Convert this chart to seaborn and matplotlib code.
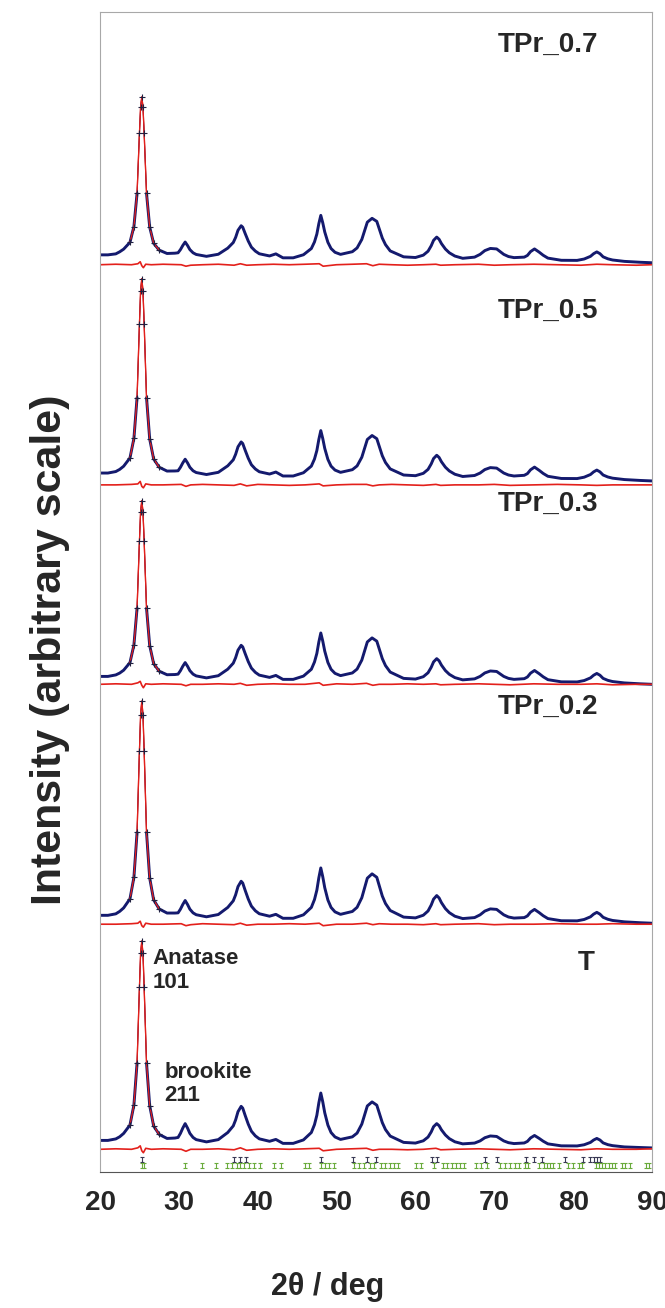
import numpy as np
import pandas as pd
import matplotlib
matplotlib.use('Agg')
import matplotlib.pyplot as plt
import seaborn as sns
from matplotlib.ticker import MultipleLocator

# 2theta grid (deg) for the digitised patterns
THETA = [20, 21, 22, 22.5, 23, 23.8, 24.3, 24.7, 25.0, 25.15, 25.3, 25.45, 25.6, 25.9,
         26.3, 26.8, 27.5, 28.5, 29.5, 29.9, 30.2, 30.5, 30.8, 31.1, 31.4, 31.8, 32.2,
         33.5, 35, 36.2, 36.9, 37.2, 37.5, 37.9, 38.1, 38.4, 38.8, 39.2, 39.7, 40.2,
         41.5, 42.3, 43.2, 44.5, 45.8, 46.8, 47.2, 47.5, 47.75, 48.0, 48.25, 48.5,
         48.9, 49.3, 49.8, 50.5, 52, 52.6, 53.2, 53.9, 54.5, 55.1, 55.8, 56.2, 56.8,
         58.5, 60, 61.0, 61.6, 62.0, 62.3, 62.7, 63.0, 63.3, 63.8, 64.3, 65.0, 66,
         67.5, 68.2, 68.8, 69.5, 70.3, 71.2, 71.8, 72.5, 73.8, 74.2, 74.6, 75.1, 75.7,
         76.2, 76.8, 78.5, 80.5, 81.4, 82.2, 82.6, 83.0, 83.4, 83.8, 84.4, 85.0, 86.5,
         88.5, 90]

# observed intensity above each pattern's own baseline (arbitrary units)
OBS_07 = [0, 0, 1, 3.1, 5.8, 12.7, 28.7, 62.3, 123, 150, 160, 150, 123, 62.3,
          28.2, 11.7, 4.8, 1.4, 1.7, 2.1, 5.3, 9.5, 13, 9.5, 5.3, 2.1, 0.4,
          -1.5, 0.6, 6.8, 12.5, 17.7, 24.9, 29.5, 28, 21.8, 14, 7.8, 3.8, 1.1,
          -1.1, 1, -3, -3, 0.1, 6.4, 13.1, 21.1, 31.6, 40, 32.4, 23.2,
          12.7, 6.4, 2.6, 0.5, 3.2, 7, 15.6, 33.1, 37, 33.9, 17, 10.4, 4,
          -2, -2.7, -0.3, 3.7, 9.2, 14.7, 18, 15.8, 11.4, 5.9, 2.1, -1.2, -3.5,
          -2.3, 0.5, 4.3, 6.5, 6, 0.5, -1.7, -2.8, -2.3, -0.6, 3.3, 6, 2.7,
          -0.4, -3.3, -5.5, -5.6, -4.2, -1.5, 1.2, 3, 1.2, -2, -4, -5.2, -6.6,
          -7.5, -8]
OBS_05 = [0, 0, 1.5, 3.7, 6.9, 15.3, 35, 76.4, 151, 184.7, 197, 184.7, 151, 76.4,
          34.5, 14.3, 5.9, 2, 2.1, 2.3, 5.8, 10.3, 14, 10.3, 5.8, 2.3, 0.5,
          -1.5, 0.7, 7.3, 13.4, 19, 26.6, 31.5, 29.9, 23.3, 15, 8.4, 4.1, 1.3,
          -1, 1, -3, -3, 0.3, 7, 14.2, 22.8, 34, 43, 34.9, 25,
          13.8, 7, 3, 0.7, 3.4, 7.2, 16, 34, 38, 34.8, 17.5, 10.7, 4.2,
          -2, -2.7, -0.3, 3.7, 9.2, 14.7, 18, 15.8, 11.4, 5.9, 2.1, -1.2, -3.5,
          -2.5, 0, 3.5, 5.5, 5, 0, -2, -3, -2.3, -0.6, 3.3, 6, 2.7,
          -0.4, -3.3, -5.5, -5.6, -4.2, -1.5, 1.2, 3, 1.2, -2, -4, -5.2, -6.6,
          -7.5, -8]
OBS_03 = [0, 0, 1.5, 3.4, 6.3, 14, 31.8, 69.1, 137, 167, 178, 167, 137, 69.1,
          31.3, 13, 5.3, 1.7, 1.9, 2.3, 5.8, 10.3, 14, 10.3, 5.8, 2.3, 0.5,
          -1.5, 0.7, 7.3, 13.4, 19, 26.6, 31.5, 29.9, 23.3, 15, 8.4, 4.1, 1.3,
          -1, 1, -3, -3, 0.3, 7.2, 14.6, 23.3, 34.8, 44, 35.7, 25.6,
          14.1, 7.2, 3.1, 0.8, 3.5, 7.4, 16.5, 34.9, 39, 35.7, 18, 11, 4.4,
          -2, -2.7, -0.3, 3.7, 9.2, 14.7, 18, 15.8, 11.4, 5.9, 2.1, -1.2, -3.5,
          -2.5, 0, 3.5, 5.5, 5, 0, -2, -3, -2.3, -0.6, 3.3, 6, 2.7,
          -0.4, -3.3, -5.5, -5.6, -4.2, -1.5, 1.2, 3, 1.2, -2, -4, -5.2, -6.6,
          -7.5, -8]
OBS_02 = [0, 0, 1.5, 4, 7.5, 16.7, 38.4, 84, 166.4, 203.3, 217, 203.3, 166.4, 84,
          37.9, 15.7, 6.5, 2.3, 2.3, 2.5, 6.2, 11, 15, 11, 6.2, 2.5, 0.6,
          -1.5, 0.8, 8, 14.7, 20.8, 29.1, 34.5, 32.7, 25.5, 16.5, 9.3, 4.6, 1.6,
          -0.9, 1, -3, -3, 0.5, 8, 16, 25.5, 38, 48, 39, 28,
          15.5, 8, 3.5, 1, 3.9, 8.1, 17.8, 37.6, 42, 38.5, 19.5, 12, 4.9,
          -1.8, -2.6, 0.1, 4.4, 10.4, 16.4, 20, 17.6, 12.8, 6.8, 2.7, -0.9, -3.3,
          -2.3, 0.5, 4.3, 6.5, 6, 0.5, -1.7, -2.8, -2.3, -0.6, 3.3, 6, 2.7,
          -0.4, -3.3, -5.5, -5.6, -4.2, -1.5, 1.2, 3, 1.2, -2, -4, -5.2, -6.6,
          -7.5, -8]
OBS_T = [0, 0, 1.5, 3.7, 7.1, 15.6, 35.8, 78.3, 155, 189.4, 202, 189.4, 155, 78.3,
         35.3, 14.6, 6.1, 2, 2.4, 3, 7.1, 12.5, 17, 12.5, 7.1, 3, 0.8,
         -1.5, 0.8, 8, 14.7, 20.8, 29.1, 34.5, 32.7, 25.5, 16.5, 9.3, 4.6, 1.6,
         -0.9, 1, -3, -3, 0.5, 8, 16, 25.5, 38, 48, 39, 28,
         15.5, 8, 3.5, 1, 3.6, 7.4, 16.5, 34.9, 39, 35.7, 18, 11, 4.4,
         -2, -2.7, -0.4, 3.4, 8.6, 13.9, 17, 14.9, 10.7, 5.5, 1.8, -1.4, -3.5,
         -2.7, -0.5, 2.7, 4.5, 4, -0.5, -2.3, -3.2, -2.6, -1, 2.5, 5, 2,
         -0.8, -3.5, -5.5, -5.6, -4.4, -2, 0.4, 2, 0.4, -2.5, -4.3, -5.3, -6.6,
         -7.2, -7.6]

# difference curves (obs - calc)
DIFF_X = [20, 22, 24, 24.8, 25.1, 25.3, 25.5, 25.8, 26.5, 28, 30.3, 30.9, 31.5, 33, 35,
          37, 37.8, 38.6, 40, 42, 44, 46, 47.8, 48.3, 50, 52, 53.8, 54.6, 55.4, 57,
          59, 61, 62.6, 63.2, 65, 68, 70, 72, 75, 78, 81, 83, 85, 88, 90]
DIFF_07 = [0, 0.5, 0, 1, 3, -1, -3, 0.5, 0, 0.5, 0, -1.5, -0.5, 0, 0.5,
           -0.5, 1, -0.5, 0, 0.5, 0, 0.5, 1, -1.5, 0, 0.5, 1, -1, 0.5, 0,
           -0.5, 0, 0.5, -0.5, 0, 0.5, -0.5, 0, 0.5, 0, -0.5, 0.5, 0, -0.5, 0]
DIFF_05 = [0, 0, 0.5, 1, 3.5, -1.5, -3, 1, 0, 0, 0.5, -1.5, 0, 0.5, 0,
           -0.5, 1, -1, 0.5, 0, -0.5, 0, 1, -1, 0, 0.5, 0.5, -1, 0, 0.5,
           0, -0.5, 0.5, -0.5, 0, 0, 0.5, -0.5, 0, 0.5, 0, -0.5, 0, 0, 0]
DIFF_03 = [0, 0.5, 0, 1.5, 3, -1, -3.5, 0.5, 0, 0.5, 0, -1.5, 0, 0, 0.5,
           0, 1, -1, 0, 0.5, 0, 0, 1.5, -1, 0.5, 0, 1, -1, 0, 0,
           0.5, 0, 0.5, -0.5, 0, 0.5, 0, -0.5, 0.5, 0, 0, 0.5, -0.5, 0, 0]
DIFF_02 = [0, 0, 0.5, 1, 3, -1.5, -3, 1, 0, 0, 0.5, -1.5, -0.5, 0.5, 0,
           -0.5, 1, -1, 0, 0, 0.5, 0, 1, -1.5, 0, 0, 1, -0.5, 0.5, 0,
           0, -0.5, 0.5, -0.5, 0, 0.5, -0.5, 0, 0, 0.5, 0, 0, 0.5, 0, 0]
DIFF_T = [0, 0.5, 0, 1.5, 3.5, -1.5, -3.5, 1, 0, 0.5, 0, -2, 0, 0, 0.5,
          -0.5, 1.5, -1, 0, 0.5, 0, 0.5, 1, -1.5, 0, 0.5, 1, -1, 0, 0,
          -0.5, 0, 1, -0.5, 0, 0.5, 0, -0.5, 0.5, 0, -0.5, 0.5, 0, 0, 0.5]

SAMPLES = ['TPr_0.7', 'TPr_0.5', 'TPr_0.3', 'TPr_0.2', 'T']
OBS = [OBS_07, OBS_05, OBS_03, OBS_02, OBS_T]
DIFF = [DIFF_07, DIFF_05, DIFF_03, DIFF_02, DIFF_T]
OFFSETS = [929, 708, 502, 260, 32]          # vertical stacking offsets
DIFF_OFFSETS = [919, 696, 494, 251, 23]

# Bragg reflection positions (deg)
ANATASE_POS = [25.3, 36.95, 37.8, 38.57, 48.05, 52.1, 53.9, 55.06, 62.12, 62.69,
               68.76, 70.3, 74.03, 75.03, 76.02, 79.0, 81.3, 82.1, 82.6, 83.0, 83.4]
BROOKITE_POS = [25.3, 25.6, 30.8, 32.9, 34.7, 36.1, 36.8, 37.4, 37.8, 38.3, 38.9, 39.5,
                40.3, 42.1, 42.9, 46.0, 46.5, 48.0, 48.5, 49.1, 49.7, 52.2, 52.9, 53.5,
                54.2, 54.8, 55.6, 56.2, 56.8, 57.3, 57.8, 60.1, 60.7, 62.3, 63.5, 64.0,
                64.6, 65.1, 65.6, 66.2, 67.7, 68.3, 69.1, 70.7, 71.3, 72.0, 72.6, 73.1,
                73.9, 74.3, 75.7, 76.3, 76.7, 77.1, 77.5, 78.2, 79.4, 80.0, 80.7, 81.1,
                82.9, 83.3, 83.7, 84.1, 84.5, 84.9, 85.3, 86.2, 86.6, 87.2, 89.2, 89.6]

NAVY = '#141a6e'
RED = '#e3201b'
GREEN = '#6aab3c'

sns.set_style('white')
plt.rcParams['font.family'] = ['Liberation Sans', 'DejaVu Sans']
plt.rcParams['font.weight'] = 'bold'

fig = plt.figure(figsize=(6.65, 13.08), dpi=100)
ax = fig.add_axes([100 / 665, 1 - 1172 / 1308, 552 / 665, 1160 / 1308])

for obs, diff, off, doff in zip(OBS, DIFF, OFFSETS, DIFF_OFFSETS):
    df = pd.DataFrame({'theta': THETA, 'y': np.array(obs) + off})
    left = df[df.theta <= 24.7]
    core = df[(df.theta >= 24.7) & (df.theta <= 25.9)]
    right = df[df.theta >= 25.9]
    peak = df[(df.theta >= 23.5) & (df.theta <= 27.5)]

    # calculated profile underneath, observed on top
    sns.lineplot(data=df, x='theta', y='y', ax=ax, color=RED, lw=0.9)
    for part in (left, right):
        sns.lineplot(data=part, x='theta', y='y', ax=ax, color=NAVY, lw=2.1)
    sns.lineplot(data=core, x='theta', y='y', ax=ax, color=NAVY, lw=0.6)
    sns.lineplot(data=peak, x='theta', y='y', ax=ax, color=RED, lw=0.9)
    ax.plot(peak.theta, peak.y, ls='none', marker='+', ms=4, mew=0.8, color='#202040')

    dd = pd.DataFrame({'theta': DIFF_X, 'y': np.array(diff) + doff})
    sns.lineplot(data=dd, x='theta', y='y', ax=ax, color=RED, lw=1.2)

# reflection markers
ax.errorbar(ANATASE_POS, [12.5] * len(ANATASE_POS), yerr=2.5, fmt='none',
            ecolor='#3a3a55', elinewidth=0.8, capsize=1.5, capthick=0.8)
ax.errorbar(BROOKITE_POS, [6.5] * len(BROOKITE_POS), yerr=2.5, fmt='none',
            ecolor=GREEN, elinewidth=0.8, capsize=1.5, capthick=0.8)

# sample labels
label_pos = [(76.8, 1142), (76.8, 872), (76.8, 677), (76.8, 471), (81.6, 212)]
for name, (lx, ly) in zip(SAMPLES, label_pos):
    ax.text(lx, ly, name, ha='center', va='center', fontsize=20, fontweight='bold')

ax.text(26.7, 204, 'Anatase\n101', ha='left', va='center', fontsize=16,
        fontweight='bold', linespacing=1.15)
ax.text(28.2, 89, 'brookite\n211', ha='left', va='center', fontsize=16,
        fontweight='bold', linespacing=1.15)

ax.set_xlim(20, 90)
ax.set_ylim(0, 1175)
ax.set_yticks([])
ax.xaxis.set_major_locator(MultipleLocator(10))
ax.xaxis.set_minor_locator(MultipleLocator(1))
ax.tick_params(axis='x', which='major', direction='out', length=7, width=1,
               color='#555555', labelsize=20, pad=6)
ax.tick_params(axis='x', which='minor', direction='out', length=5, width=0.8,
               color='#555555')
for lab in ax.get_xticklabels():
    lab.set_fontweight('bold')

for side in ('left', 'top', 'right'):
    ax.spines[side].set_color('#a8a8a8')
ax.spines['bottom'].set_color('#555555')

ax.set_xlabel('2θ / deg', fontsize=22, fontweight='bold')
ax.xaxis.set_label_coords(0.413, -0.086)
ax.set_ylabel('Intensity (arbitrary scale)', fontsize=31, fontweight='bold')
ax.yaxis.set_label_coords(-0.055, 0.45)

fig.savefig('out.png', dpi=100)
